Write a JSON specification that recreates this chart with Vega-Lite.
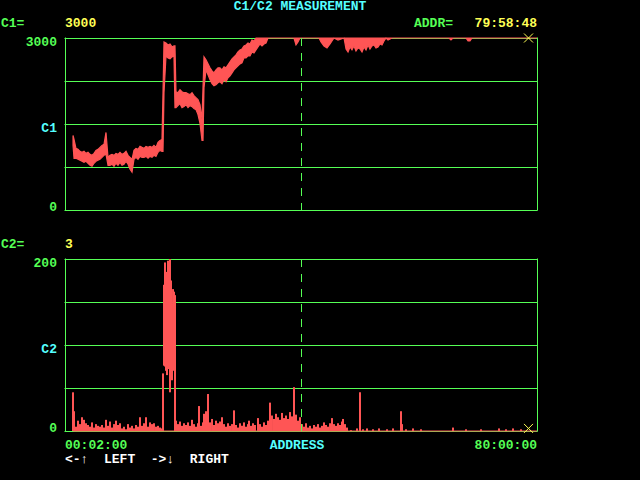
{
  "$schema": "https://vega.github.io/schema/vega-lite/v6.json",
  "background": "#000000",
  "padding": {"left": 0, "top": 0, "right": 103, "bottom": 14},
  "spacing": 49,
  "bounds": "flush",
  "config": {
    "view": {"stroke": null},
    "axis": {"disable": true},
    "text": {"font": "Liberation Mono", "fontSize": 13, "fontWeight": "bold", "baseline": "alphabetic"}
  },
  "datasets": {
    "c1": [
      {"t":1.36,"lo":1127,"hi":1301},{"t":1.53,"lo":902,"hi":1231},{"t":1.86,"lo":902,"hi":1075},{"t":2.20,"lo":884,"hi":1058},
      {"t":2.54,"lo":867,"hi":1023},{"t":2.88,"lo":850,"hi":1006},{"t":3.22,"lo":832,"hi":1023},{"t":3.56,"lo":850,"hi":988},
      {"t":3.90,"lo":815,"hi":1006},{"t":4.24,"lo":780,"hi":971},{"t":4.58,"lo":763,"hi":954},{"t":4.92,"lo":815,"hi":988},
      {"t":5.25,"lo":850,"hi":1040},{"t":5.59,"lo":867,"hi":1058},{"t":5.93,"lo":884,"hi":1092},{"t":6.27,"lo":919,"hi":1127},
      {"t":6.61,"lo":954,"hi":1145},{"t":6.95,"lo":971,"hi":1353},{"t":7.29,"lo":780,"hi":919},{"t":7.63,"lo":780,"hi":954},
      {"t":7.97,"lo":798,"hi":971},{"t":8.31,"lo":763,"hi":954},{"t":8.64,"lo":815,"hi":988},{"t":8.98,"lo":780,"hi":971},
      {"t":9.32,"lo":832,"hi":1006},{"t":9.66,"lo":780,"hi":971},{"t":10.00,"lo":798,"hi":988},{"t":10.34,"lo":850,"hi":1023},
      {"t":10.68,"lo":798,"hi":954},{"t":11.02,"lo":711,"hi":919},{"t":11.36,"lo":659,"hi":884},{"t":11.69,"lo":884,"hi":1040},
      {"t":12.03,"lo":919,"hi":1075},{"t":12.37,"lo":884,"hi":1058},{"t":12.71,"lo":936,"hi":1110},{"t":13.05,"lo":919,"hi":1092},
      {"t":13.39,"lo":919,"hi":1075},{"t":13.73,"lo":936,"hi":1110},{"t":14.07,"lo":902,"hi":1092},{"t":14.41,"lo":936,"hi":1110},
      {"t":14.75,"lo":919,"hi":1092},{"t":15.08,"lo":954,"hi":1127},{"t":15.42,"lo":936,"hi":1092},{"t":15.76,"lo":1006,"hi":1179},
      {"t":16.10,"lo":1040,"hi":1214},{"t":16.44,"lo":1023,"hi":1231},{"t":16.61,"lo":1023,"hi":2046},{"t":16.78,"lo":2046,"hi":2931},
      {"t":17.12,"lo":2688,"hi":2913},{"t":17.46,"lo":2653,"hi":2879},{"t":17.80,"lo":2636,"hi":2896},{"t":18.14,"lo":2671,"hi":2844},
      {"t":18.47,"lo":2688,"hi":2861},{"t":18.64,"lo":1786,"hi":2861},{"t":18.81,"lo":1786,"hi":2064},{"t":19.15,"lo":1821,"hi":2046},
      {"t":19.49,"lo":1855,"hi":2098},{"t":19.83,"lo":1786,"hi":2064},{"t":20.17,"lo":1803,"hi":2046},{"t":20.51,"lo":1838,"hi":2046},
      {"t":20.85,"lo":1786,"hi":2029},{"t":21.19,"lo":1821,"hi":2012},{"t":21.53,"lo":1803,"hi":2046},{"t":21.86,"lo":1769,"hi":1994},
      {"t":22.20,"lo":1751,"hi":1960},{"t":22.54,"lo":1665,"hi":1925},{"t":22.88,"lo":1509,"hi":1838},{"t":23.22,"lo":1214,"hi":1578},
      {"t":23.39,"lo":1214,"hi":2133},{"t":23.56,"lo":2133,"hi":2671},{"t":23.90,"lo":2445,"hi":2618},{"t":24.24,"lo":2358,"hi":2549},
      {"t":24.58,"lo":2272,"hi":2480},{"t":24.92,"lo":2202,"hi":2428},{"t":25.25,"lo":2168,"hi":2393},{"t":25.59,"lo":2185,"hi":2445},
      {"t":25.93,"lo":2220,"hi":2480},{"t":26.27,"lo":2237,"hi":2480},{"t":26.61,"lo":2202,"hi":2445},{"t":26.95,"lo":2272,"hi":2497},
      {"t":27.29,"lo":2237,"hi":2480},{"t":27.63,"lo":2306,"hi":2532},{"t":27.97,"lo":2341,"hi":2584},{"t":28.31,"lo":2393,"hi":2636},
      {"t":28.64,"lo":2445,"hi":2671},{"t":28.98,"lo":2480,"hi":2705},{"t":29.32,"lo":2514,"hi":2757},{"t":29.66,"lo":2549,"hi":2792},
      {"t":30.00,"lo":2566,"hi":2809},{"t":30.34,"lo":2653,"hi":2861},{"t":30.68,"lo":2653,"hi":2879},{"t":31.02,"lo":2688,"hi":2913},
      {"t":31.36,"lo":2688,"hi":2896},{"t":31.69,"lo":2757,"hi":2965},{"t":32.03,"lo":2740,"hi":2948},{"t":32.37,"lo":2792,"hi":3000},
      {"t":32.71,"lo":2844,"hi":3000},{"t":33.05,"lo":2896,"hi":3000},{"t":33.39,"lo":2861,"hi":3000},{"t":33.73,"lo":2896,"hi":3000},
      {"t":34.07,"lo":2913,"hi":3000},{"t":34.41,"lo":3000,"hi":3000},{"t":38.81,"lo":3000,"hi":3000},{"t":39.15,"lo":2879,"hi":3000},
      {"t":39.49,"lo":2931,"hi":3000},{"t":39.83,"lo":3000,"hi":3000},{"t":43.05,"lo":3000,"hi":3000},{"t":43.39,"lo":2931,"hi":3000},
      {"t":43.90,"lo":2861,"hi":3000},{"t":44.41,"lo":2827,"hi":3000},{"t":44.92,"lo":2896,"hi":3000},{"t":45.25,"lo":2948,"hi":3000},
      {"t":45.59,"lo":3000,"hi":3000},{"t":46.27,"lo":2965,"hi":3000},{"t":47.29,"lo":3000,"hi":3000},{"t":47.63,"lo":2809,"hi":3000},
      {"t":47.97,"lo":2757,"hi":3000},{"t":48.31,"lo":2844,"hi":3000},{"t":48.64,"lo":2792,"hi":3000},{"t":48.98,"lo":2861,"hi":3000},
      {"t":49.32,"lo":2775,"hi":3000},{"t":49.66,"lo":2827,"hi":3000},{"t":50.00,"lo":2809,"hi":3000},{"t":50.34,"lo":2757,"hi":3000},
      {"t":50.68,"lo":2844,"hi":3000},{"t":51.02,"lo":2792,"hi":3000},{"t":51.36,"lo":2879,"hi":3000},{"t":51.69,"lo":2809,"hi":3000},
      {"t":52.03,"lo":2861,"hi":3000},{"t":52.37,"lo":2879,"hi":3000},{"t":52.71,"lo":2827,"hi":3000},{"t":53.05,"lo":2844,"hi":3000},
      {"t":53.39,"lo":2896,"hi":3000},{"t":53.73,"lo":2879,"hi":3000},{"t":54.07,"lo":2948,"hi":3000},{"t":54.41,"lo":3000,"hi":3000},
      {"t":54.75,"lo":2965,"hi":3000},{"t":55.42,"lo":3000,"hi":3000},{"t":65.08,"lo":3000,"hi":3000},{"t":65.42,"lo":2965,"hi":3000},
      {"t":65.76,"lo":3000,"hi":3000},{"t":67.97,"lo":3000,"hi":3000},{"t":68.31,"lo":2948,"hi":3000},{"t":68.64,"lo":2948,"hi":3000},
      {"t":68.98,"lo":3000,"hi":3000},{"t":80.00,"lo":3000,"hi":3000}
    ],
    "c2": [
      {"t":1.36,"lo":0,"hi":45},{"t":1.53,"lo":0,"hi":23},{"t":1.86,"lo":0,"hi":5},{"t":2.20,"lo":0,"hi":12},{"t":2.54,"lo":0,"hi":8},
      {"t":2.88,"lo":0,"hi":16},{"t":3.22,"lo":0,"hi":13},{"t":3.56,"lo":0,"hi":9},{"t":3.90,"lo":0,"hi":7},{"t":4.24,"lo":0,"hi":5},
      {"t":4.58,"lo":0,"hi":10},{"t":4.92,"lo":0,"hi":4},{"t":5.25,"lo":0,"hi":8},{"t":5.59,"lo":0,"hi":6},{"t":5.93,"lo":0,"hi":5},
      {"t":6.27,"lo":0,"hi":7},{"t":6.61,"lo":0,"hi":4},{"t":6.95,"lo":0,"hi":13},{"t":7.29,"lo":0,"hi":6},{"t":7.63,"lo":0,"hi":11},
      {"t":7.97,"lo":0,"hi":4},{"t":8.31,"lo":0,"hi":8},{"t":8.64,"lo":0,"hi":12},{"t":8.98,"lo":0,"hi":7},{"t":9.32,"lo":0,"hi":9},
      {"t":9.66,"lo":0,"hi":3},{"t":10.00,"lo":0,"hi":5},{"t":10.34,"lo":0,"hi":2},{"t":10.68,"lo":0,"hi":8},{"t":11.02,"lo":0,"hi":4},
      {"t":11.36,"lo":0,"hi":6},{"t":11.69,"lo":0,"hi":3},{"t":12.03,"lo":0,"hi":7},{"t":12.37,"lo":0,"hi":5},{"t":12.71,"lo":0,"hi":16},
      {"t":13.05,"lo":0,"hi":6},{"t":13.39,"lo":0,"hi":9},{"t":13.73,"lo":0,"hi":16},{"t":14.07,"lo":0,"hi":5},{"t":14.41,"lo":0,"hi":10},
      {"t":14.75,"lo":0,"hi":8},{"t":15.08,"lo":0,"hi":9},{"t":15.42,"lo":0,"hi":5},{"t":15.76,"lo":0,"hi":6},{"t":16.10,"lo":0,"hi":4},
      {"t":16.44,"lo":0,"hi":3},{"t":16.61,"lo":0,"hi":67},{"t":16.78,"lo":76,"hi":170},{"t":16.95,"lo":75,"hi":196},{"t":17.12,"lo":70,"hi":157},
      {"t":17.29,"lo":65,"hi":185},{"t":17.46,"lo":74,"hi":198},{"t":17.63,"lo":72,"hi":180},{"t":17.80,"lo":45,"hi":200},{"t":17.97,"lo":62,"hi":175},
      {"t":18.14,"lo":59,"hi":148},{"t":18.31,"lo":75,"hi":165},{"t":18.47,"lo":70,"hi":162},{"t":18.64,"lo":0,"hi":158},{"t":18.81,"lo":0,"hi":12},
      {"t":19.15,"lo":0,"hi":8},{"t":19.49,"lo":0,"hi":11},{"t":19.83,"lo":0,"hi":6},{"t":20.17,"lo":0,"hi":9},{"t":20.51,"lo":0,"hi":7},
      {"t":20.85,"lo":0,"hi":10},{"t":21.19,"lo":0,"hi":6},{"t":21.53,"lo":0,"hi":13},{"t":21.86,"lo":0,"hi":8},{"t":22.20,"lo":0,"hi":5},
      {"t":22.54,"lo":0,"hi":9},{"t":22.71,"lo":0,"hi":29},{"t":23.05,"lo":0,"hi":6},{"t":23.39,"lo":0,"hi":10},{"t":23.56,"lo":0,"hi":20},
      {"t":23.90,"lo":0,"hi":23},{"t":24.24,"lo":0,"hi":43},{"t":24.58,"lo":0,"hi":10},{"t":24.92,"lo":0,"hi":14},{"t":25.25,"lo":0,"hi":7},
      {"t":25.59,"lo":0,"hi":12},{"t":25.93,"lo":0,"hi":9},{"t":26.27,"lo":0,"hi":11},{"t":26.61,"lo":0,"hi":16},{"t":26.95,"lo":0,"hi":8},
      {"t":27.29,"lo":0,"hi":5},{"t":27.63,"lo":0,"hi":9},{"t":27.97,"lo":0,"hi":6},{"t":28.31,"lo":0,"hi":8},{"t":28.64,"lo":0,"hi":24},
      {"t":28.98,"lo":0,"hi":7},{"t":29.32,"lo":0,"hi":4},{"t":29.66,"lo":0,"hi":9},{"t":30.00,"lo":0,"hi":6},{"t":30.34,"lo":0,"hi":10},
      {"t":30.68,"lo":0,"hi":5},{"t":31.02,"lo":0,"hi":8},{"t":31.19,"lo":0,"hi":12},{"t":31.53,"lo":0,"hi":6},{"t":31.86,"lo":0,"hi":9},
      {"t":32.20,"lo":0,"hi":7},{"t":32.71,"lo":0,"hi":15},{"t":33.05,"lo":0,"hi":8},{"t":33.39,"lo":0,"hi":5},{"t":33.73,"lo":0,"hi":10},
      {"t":34.07,"lo":0,"hi":7},{"t":34.41,"lo":0,"hi":12},{"t":34.75,"lo":0,"hi":33},{"t":35.08,"lo":0,"hi":18},{"t":35.42,"lo":0,"hi":14},
      {"t":35.76,"lo":0,"hi":20},{"t":36.10,"lo":0,"hi":16},{"t":36.44,"lo":0,"hi":13},{"t":36.78,"lo":0,"hi":21},{"t":37.12,"lo":0,"hi":15},
      {"t":37.46,"lo":0,"hi":18},{"t":37.80,"lo":0,"hi":14},{"t":38.14,"lo":0,"hi":22},{"t":38.47,"lo":0,"hi":17},{"t":38.81,"lo":0,"hi":51},
      {"t":39.15,"lo":0,"hi":19},{"t":39.49,"lo":0,"hi":12},{"t":39.83,"lo":0,"hi":16},{"t":40.17,"lo":0,"hi":8},{"t":40.51,"lo":0,"hi":5},
      {"t":40.85,"lo":0,"hi":9},{"t":41.19,"lo":0,"hi":4},{"t":41.53,"lo":0,"hi":6},{"t":41.86,"lo":0,"hi":3},{"t":42.20,"lo":0,"hi":7},
      {"t":42.54,"lo":0,"hi":5},{"t":42.88,"lo":0,"hi":8},{"t":43.22,"lo":0,"hi":4},{"t":43.56,"lo":0,"hi":6},{"t":43.90,"lo":0,"hi":10},
      {"t":44.24,"lo":0,"hi":7},{"t":44.58,"lo":0,"hi":5},{"t":44.92,"lo":0,"hi":9},{"t":45.25,"lo":0,"hi":15},{"t":45.59,"lo":0,"hi":8},
      {"t":45.93,"lo":0,"hi":6},{"t":46.27,"lo":0,"hi":9},{"t":46.61,"lo":0,"hi":7},{"t":46.95,"lo":0,"hi":11},{"t":47.12,"lo":0,"hi":14},
      {"t":47.46,"lo":0,"hi":8},{"t":47.80,"lo":0,"hi":4},{"t":48.47,"lo":0,"hi":1},{"t":49.49,"lo":0,"hi":3},{"t":50.00,"lo":0,"hi":45},
      {"t":50.51,"lo":0,"hi":2},{"t":51.19,"lo":0,"hi":3},{"t":52.20,"lo":0,"hi":2},{"t":53.22,"lo":0,"hi":3},{"t":54.58,"lo":0,"hi":2},
      {"t":55.59,"lo":0,"hi":3},{"t":56.95,"lo":0,"hi":23},{"t":57.12,"lo":0,"hi":8},{"t":57.80,"lo":0,"hi":2},{"t":58.98,"lo":0,"hi":3},
      {"t":60.34,"lo":0,"hi":2},{"t":65.76,"lo":0,"hi":4},{"t":67.97,"lo":0,"hi":2},{"t":70.51,"lo":0,"hi":2},{"t":73.56,"lo":0,"hi":3},
      {"t":74.75,"lo":0,"hi":2},{"t":75.93,"lo":0,"hi":3},{"t":77.29,"lo":0,"hi":2}
    ],
    "c2base": [{"from": 1.36, "to": 80, "v": 0}],
    "g1": [{"v": 0}, {"v": 750}, {"v": 1500}, {"v": 2250}, {"v": 3000}],
    "g2": [{"v": 0}, {"v": 50}, {"v": 100}, {"v": 150}, {"v": 200}],
    "gx": [{"t": 0}, {"t": 80}],
    "cursor": [{"addr": 78.56, "c1": 3000, "c2": 3, "mark": 40}]
  },
  "vconcat": [
    {
      "width": 472,
      "height": 172,
      "layer": [
        {
          "data": {"name": "g1"},
          "mark": {"type": "rule", "color": "#55FF55", "strokeWidth": 1, "yOffset": 0.5, "strokeCap": "square"},
          "encoding": {"y": {"field": "v", "type": "quantitative", "axis": null, "scale": {"domain": [0, 3000], "nice": false, "zero": false}}}
        },
        {
          "data": {"name": "gx"},
          "mark": {"type": "rule", "color": "#55FF55", "strokeWidth": 1, "xOffset": 0.5, "strokeCap": "square"},
          "encoding": {"x": {"field": "t", "type": "quantitative", "axis": null, "scale": {"domain": [0, 80], "nice": false, "zero": false}}}
        },
        {
          "data": {"name": "c1"},
          "mark": {"type": "area", "color": "#FF5555", "stroke": "#FF5555", "strokeWidth": 1.2, "opacity": 1},
          "encoding": {
            "x": {"field": "t", "type": "quantitative", "axis": null},
            "y": {"field": "hi", "type": "quantitative", "axis": null},
            "y2": {"field": "lo"}
          }
        },
        {
          "data": {"name": "cursor"},
          "mark": {"type": "rule", "color": "#55FF55", "strokeDash": [8, 7], "strokeWidth": 1, "xOffset": 0.5},
          "encoding": {"x": {"field": "mark", "type": "quantitative", "axis": null}}
        },
        {
          "data": {"name": "cursor"},
          "mark": {"type": "point", "shape": "M-1,-1L1,1M-1,1L1,-1", "filled": false, "stroke": "#FFFF55", "strokeWidth": 1, "size": 81, "opacity": 1},
          "encoding": {"x": {"field": "addr", "type": "quantitative", "axis": null}, "y": {"field": "c1", "type": "quantitative", "axis": null}}
        },
        {"data": {"values": [{}]}, "mark": {"type": "text", "text": "C1/C2 MEASUREMENT", "color": "#55FFFF", "align": "center", "dy": -28},
         "encoding": {"x": {"datum": 39.83, "axis": null}, "y": {"datum": 3000, "axis": null}}},
        {"data": {"values": [{}]}, "mark": {"type": "text", "text": "C1=", "color": "#55FF55", "align": "left", "dy": -11},
         "encoding": {"x": {"datum": -10.85, "axis": null}, "y": {"datum": 3000, "axis": null}}},
        {"data": {"values": [{}]}, "mark": {"type": "text", "text": "3000", "color": "#FFFF55", "align": "left", "dy": -11},
         "encoding": {"x": {"datum": 0, "axis": null}, "y": {"datum": 3000, "axis": null}}},
        {"data": {"values": [{}]}, "mark": {"type": "text", "text": "ADDR=", "color": "#55FF55", "align": "left", "dy": -11},
         "encoding": {"x": {"datum": 59.15, "axis": null}, "y": {"datum": 3000, "axis": null}}},
        {"data": {"values": [{}]}, "mark": {"type": "text", "text": "79:58:48", "color": "#FFFF55", "align": "right", "dy": -11},
         "encoding": {"x": {"datum": 80, "axis": null}, "y": {"datum": 3000, "axis": null}}},
        {"data": {"values": [{}]}, "mark": {"type": "text", "text": "3000", "color": "#55FF55", "align": "right", "dy": 8},
         "encoding": {"x": {"datum": -1.36, "axis": null}, "y": {"datum": 3000, "axis": null}}},
        {"data": {"values": [{}]}, "mark": {"type": "text", "text": "C1", "color": "#55FFFF", "align": "right", "dy": 8},
         "encoding": {"x": {"datum": -1.36, "axis": null}, "y": {"datum": 1500, "axis": null}}},
        {"data": {"values": [{}]}, "mark": {"type": "text", "text": "0", "color": "#55FF55", "align": "right", "dy": 1},
         "encoding": {"x": {"datum": -1.36, "axis": null}, "y": {"datum": 0, "axis": null}}}
      ]
    },
    {
      "width": 472,
      "height": 172,
      "layer": [
        {
          "data": {"name": "g2"},
          "mark": {"type": "rule", "color": "#55FF55", "strokeWidth": 1, "yOffset": 0.5, "strokeCap": "square"},
          "encoding": {"y": {"field": "v", "type": "quantitative", "axis": null, "scale": {"domain": [0, 200], "nice": false, "zero": false}}}
        },
        {
          "data": {"name": "gx"},
          "mark": {"type": "rule", "color": "#55FF55", "strokeWidth": 1, "xOffset": 0.5, "strokeCap": "square"},
          "encoding": {"x": {"field": "t", "type": "quantitative", "axis": null, "scale": {"domain": [0, 80], "nice": false, "zero": false}}}
        },
        {
          "data": {"name": "c2"},
          "mark": {"type": "rule", "color": "#FF5555", "strokeWidth": 2, "opacity": 1},
          "encoding": {
            "x": {"field": "t", "type": "quantitative", "axis": null},
            "y": {"field": "lo", "type": "quantitative", "axis": null},
            "y2": {"field": "hi"}
          }
        },
        {
          "data": {"name": "c2base"},
          "mark": {"type": "rule", "color": "#FF5555", "strokeWidth": 1},
          "encoding": {"x": {"field": "from", "type": "quantitative", "axis": null}, "x2": {"field": "to"}, "y": {"field": "v", "type": "quantitative", "axis": null}}
        },
        {
          "data": {"name": "cursor"},
          "mark": {"type": "rule", "color": "#55FF55", "strokeDash": [8, 7], "strokeWidth": 1, "xOffset": 0.5},
          "encoding": {"x": {"field": "mark", "type": "quantitative", "axis": null}}
        },
        {
          "data": {"name": "cursor"},
          "mark": {"type": "point", "shape": "M-1,-1L1,1M-1,1L1,-1", "filled": false, "stroke": "#FFFF55", "strokeWidth": 1, "size": 81, "opacity": 1},
          "encoding": {"x": {"field": "addr", "type": "quantitative", "axis": null}, "y": {"field": "c2", "type": "quantitative", "axis": null}}
        },
        {"data": {"values": [{}]}, "mark": {"type": "text", "text": "C2=", "color": "#55FF55", "align": "left", "dy": -11},
         "encoding": {"x": {"datum": -10.85, "axis": null}, "y": {"datum": 200, "axis": null}}},
        {"data": {"values": [{}]}, "mark": {"type": "text", "text": "3", "color": "#FFFF55", "align": "left", "dy": -11},
         "encoding": {"x": {"datum": 0, "axis": null}, "y": {"datum": 200, "axis": null}}},
        {"data": {"values": [{}]}, "mark": {"type": "text", "text": "200", "color": "#55FF55", "align": "right", "dy": 8},
         "encoding": {"x": {"datum": -1.36, "axis": null}, "y": {"datum": 200, "axis": null}}},
        {"data": {"values": [{}]}, "mark": {"type": "text", "text": "C2", "color": "#55FFFF", "align": "right", "dy": 8},
         "encoding": {"x": {"datum": -1.36, "axis": null}, "y": {"datum": 100, "axis": null}}},
        {"data": {"values": [{}]}, "mark": {"type": "text", "text": "0", "color": "#55FF55", "align": "right", "dy": 1},
         "encoding": {"x": {"datum": -1.36, "axis": null}, "y": {"datum": 0, "axis": null}}},
        {"data": {"values": [{}]}, "mark": {"type": "text", "text": "00:02:00", "color": "#55FF55", "align": "left", "dy": 18},
         "encoding": {"x": {"datum": 0, "axis": null}, "y": {"datum": 0, "axis": null}}},
        {"data": {"values": [{}]}, "mark": {"type": "text", "text": "ADDRESS", "color": "#55FFFF", "align": "center", "dy": 18},
         "encoding": {"x": {"datum": 39.32, "axis": null}, "y": {"datum": 0, "axis": null}}},
        {"data": {"values": [{}]}, "mark": {"type": "text", "text": "80:00:00", "color": "#55FF55", "align": "right", "dy": 18},
         "encoding": {"x": {"datum": 80, "axis": null}, "y": {"datum": 0, "axis": null}}},
        {"data": {"values": [{}]}, "mark": {"type": "text", "text": "<-↑\u00a0\u00a0LEFT\u00a0\u00a0->↓\u00a0\u00a0RIGHT", "color": "#FFFFFF", "align": "left", "dy": 32},
         "encoding": {"x": {"datum": 0, "axis": null}, "y": {"datum": 0, "axis": null}}}
      ]
    }
  ]
}
